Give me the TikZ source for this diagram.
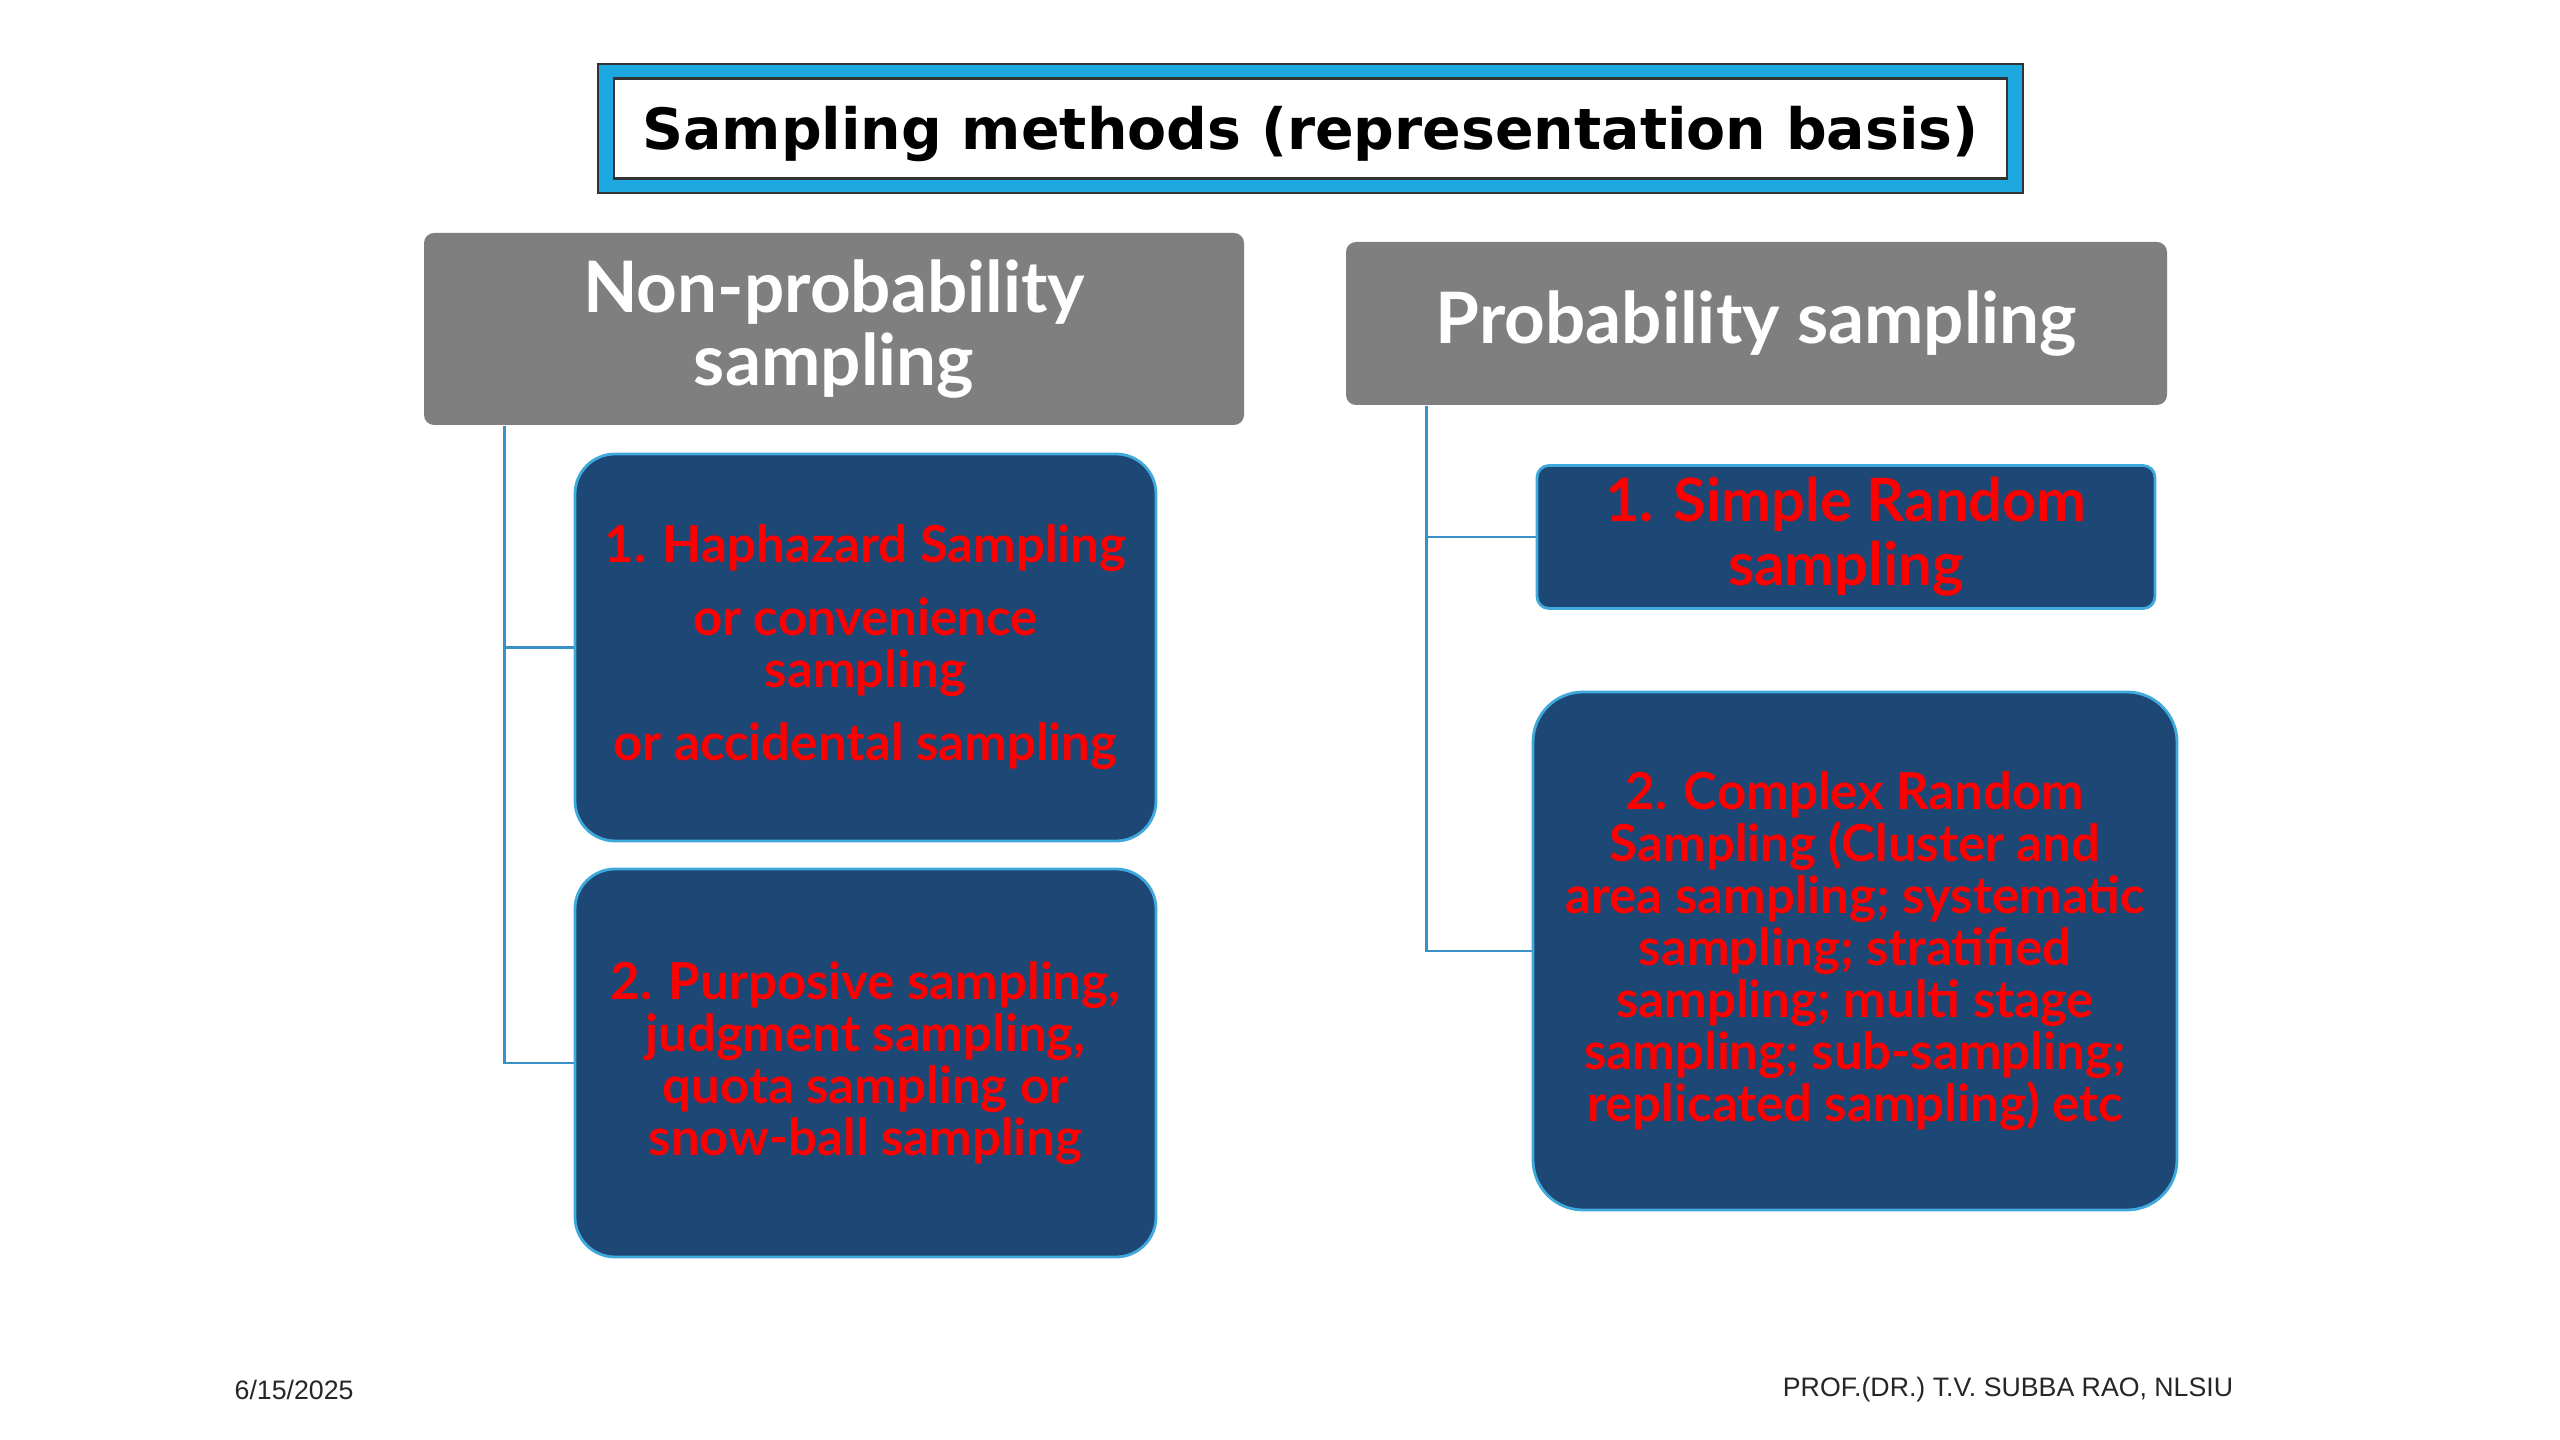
\documentclass[tikz,border=0pt]{standalone}
\usepackage{fontspec}
\setmainfont{Lato}
\newfontfamily\titlefont{DejaVu Sans}
\newfontfamily\footfont{Liberation Sans}
\usepackage{xcolor}
\usepackage{tikz}

\definecolor{titlecyan}{HTML}{1EA8E0}
\definecolor{headgray}{HTML}{7F7F7F}
\definecolor{boxblue}{HTML}{1D4775}
\definecolor{boxedge}{HTML}{3FA9DC}
\definecolor{linkblue}{HTML}{3A91C6}

\tikzset{
  headbox/.style={fill=headgray, rounded corners=1mm, text=white, align=center, inner sep=0pt,
    font=\fontsize{20.2}{21}\selectfont\bfseries},
  itembox/.style={fill=boxblue, draw=boxedge, line width=0.8pt, text=red, align=center, inner sep=0pt,
    font=\fontsize{14.5}{14.8}\selectfont\bfseries},
  link/.style={draw=linkblue, line width=0.8pt},
  footnote/.style={text=black!85, inner sep=0pt, font=\footfont\fontsize{7.6}{9}\selectfont},
}

\begin{document}
\begin{tikzpicture}[x=0.1mm, y=-0.1mm]
  % 1. Nen trang
  \fill[white] (0,0) rectangle (2560,1440);

  % 2. Tieu de
  \node[fill=titlecyan, draw=black!80, line width=0.6pt, minimum width=142.5mm, minimum height=12.9mm] (titleframe) at (1310.5,128.5) {};
  \node[fill=white, draw=black!80, line width=0.6pt, minimum width=139.3mm, minimum height=10mm, inner sep=0pt,
    text height=11.9pt, text depth=0pt,
    font=\titlefont\fontsize{16.2}{18}\selectfont\bfseries] (title) at (titleframe.center) {Sampling methods (representation basis)};

  % 3. Hai nhom chinh
  \node[headbox, minimum width=82mm, minimum height=19.2mm] (nonprob) at (834,329) {Non-probability\\sampling};
  \node[headbox, minimum width=82.1mm, minimum height=16.3mm] (prob) at (1756.5,323.5) {Probability sampling};

  % 4. Nhanh phi xac suat
  \node[itembox, rounded corners=4mm, minimum width=58.1mm, minimum height=38.7mm] (haphazard) at (865.5,647.5)
    {1. Haphazard Sampling\\[6pt] or convenience\\ sampling\\[6pt] or accidental sampling};
  \node[itembox, rounded corners=4mm, minimum width=58.1mm, minimum height=38.8mm] (purposive) at (865.5,1063)
    {2. Purposive sampling,\\ judgment sampling,\\ quota sampling or\\ snow-ball sampling};

  % 5. Nhanh xac suat
  \node[itembox, rounded corners=1.2mm, minimum width=61.8mm, minimum height=14.3mm,
    font=\fontsize{17}{18.2}\selectfont\bfseries] (simplerand) at (1846,537) {1. Simple Random\\ sampling};
  \node[itembox, rounded corners=5mm, minimum width=64.4mm, minimum height=51.8mm] (complexrand) at (1855,951)
    {2. Complex Random\\ Sampling (Cluster and\\ area sampling; systematic\\ sampling; stratified\\ sampling; multi stage\\ sampling; sub-sampling;\\ replicated sampling) etc};

  % 6. Duong noi
  \draw[link] ([xshift=8.1mm]nonprob.south west) |- (haphazard.west);
  \draw[link] ([xshift=8.1mm]nonprob.south west) |- (purposive.west);
  \draw[link] ([xshift=8.1mm]prob.south west) |- (simplerand.west);
  \draw[link] ([xshift=8.1mm]prob.south west) |- (complexrand.west);

  % 7. Chan trang
  \node[footnote, anchor=west] (date) at (234,1390) {6/15/2025};
  \node[footnote] (author) at (2008,1390) {PROF.(DR.) T.V. SUBBA RAO, NLSIU};
\end{tikzpicture}
\end{document}
